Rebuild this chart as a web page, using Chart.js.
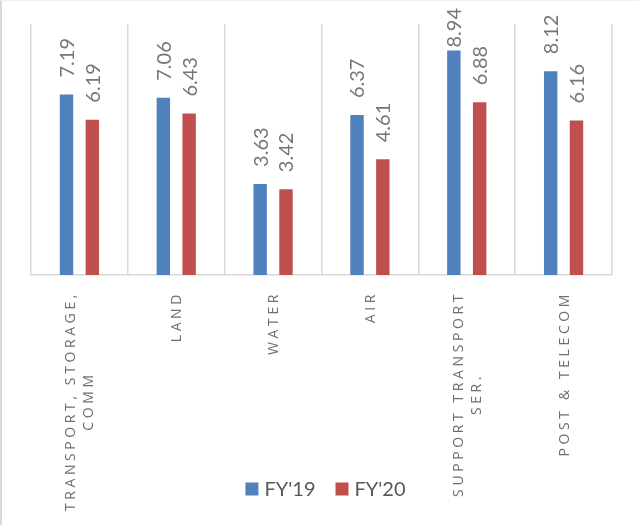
<!DOCTYPE html>
<html>
<head>
<meta charset="utf-8">
<script src="https://cdn.jsdelivr.net/npm/chart.js@4.4.1/dist/chart.umd.min.js"></script>
<style>
  html, body { margin: 0; padding: 0; background: #fff; }
  #wrap { width: 639px; height: 525px; position: relative; }
</style>
</head>
<body>
<div id="wrap"><canvas id="chart"></canvas></div>
<script>
// Transport sector growth by sub-sector, FY'19 vs FY'20
const categories = [
  ['TRANSPORT, STORAGE,', 'COMM'],
  ['LAND'],
  ['WATER'],
  ['AIR'],
  ['SUPPORT TRANSPORT', 'SER.'],
  ['POST & TELECOM']
];
const seriesNames = ["FY'19", "FY'20"];
const fy19 = [7.19, 7.06, 3.63, 6.37, 8.94, 8.12];
const fy20 = [6.19, 6.43, 3.42, 4.61, 6.88, 6.16];

const BLUE = '#4F81BD';
const RED = '#C0504D';

// White background plus the thin frame on the left and top edges
const frame = {
  id: 'frame',
  beforeDraw(chart) {
    const ctx = chart.ctx;
    ctx.save();
    ctx.fillStyle = '#ffffff';
    ctx.fillRect(0, 0, chart.width, chart.height);
    ctx.fillStyle = '#d9d9d9';
    ctx.fillRect(0, 0, 2, chart.height);
    ctx.fillStyle = '#efefef';
    ctx.fillRect(0, 0, chart.width, 1);
    ctx.restore();
  }
};

// Rotated value labels above each bar
const valueLabels = {
  id: 'valueLabels',
  afterDatasetsDraw(chart) {
    const ctx = chart.ctx;
    ctx.save();
    ctx.font = '20px Lato';
    ctx.fillStyle = '#767676';
    ctx.textAlign = 'left';
    ctx.textBaseline = 'middle';
    chart.data.datasets.forEach((ds, di) => {
      chart.getDatasetMeta(di).data.forEach((bar, i) => {
        const txt = ds.data[i].toFixed(2);
        const w = ctx.measureText(txt).width;
        let y = bar.y - 17;
        if (y - w < 8) y = Math.min(bar.y - 3, 8 + w);
        ctx.save();
        ctx.translate(bar.x + 1, y);
        ctx.rotate(-Math.PI / 2);
        ctx.fillText(txt, 0, 0);
        ctx.restore();
      });
    });
    ctx.restore();
  }
};

// Rotated, letter-spaced category labels under the axis
const categoryLabels = {
  id: 'categoryLabels',
  afterDraw(chart) {
    const ctx = chart.ctx;
    const xs = chart.scales.x;
    const top = chart.chartArea.bottom + 16;
    ctx.save();
    ctx.font = '14px "Open Sans"';
    ctx.fillStyle = '#6f6f6f';
    ctx.letterSpacing = '3.6px';
    ctx.textAlign = 'center';
    ctx.textBaseline = 'middle';
    chart.data.labels.forEach((lines, i) => {
      const cx = xs.getPixelForValue(i) + 1;
      const widths = lines.map(l => ctx.measureText(l).width);
      const maxW = Math.max(...widths);
      const lineH = 18;
      lines.forEach((line, li) => {
        const x = cx + (li - (lines.length - 1) / 2) * lineH;
        ctx.save();
        ctx.translate(x, top + maxW / 2);
        ctx.rotate(-Math.PI / 2);
        ctx.fillText(line, 0, 0);
        ctx.restore();
      });
    });
    ctx.restore();
  }
};

// Legend drawn beneath the plot, centred on the plot area
const bottomLegend = {
  id: 'bottomLegend',
  afterDraw(chart) {
    const ctx = chart.ctx;
    const box = 13, gapBoxText = 6, gapItems = 20;
    ctx.save();
    ctx.font = '20px Lato';
    ctx.textBaseline = 'middle';
    ctx.textAlign = 'left';
    const items = chart.data.datasets.map(ds => ({
      label: ds.label, color: ds.backgroundColor,
      w: box + gapBoxText + ctx.measureText(ds.label).width
    }));
    const total = items.reduce((s, it) => s + it.w, 0) + gapItems * (items.length - 1);
    const ca = chart.chartArea;
    let x = (ca.left + ca.right) / 2 + 4 - total / 2;
    const cy = 489;
    items.forEach(it => {
      ctx.fillStyle = it.color;
      ctx.fillRect(x, cy - box / 2, box, box);
      ctx.fillStyle = '#595959';
      ctx.fillText(it.label, x + box + gapBoxText, cy + 1);
      x += it.w + gapItems;
    });
    ctx.restore();
  }
};

new Chart(document.getElementById('chart'), {
  type: 'bar',
  data: {
    labels: categories,
    datasets: [
      { label: seriesNames[0], data: fy19, backgroundColor: BLUE },
      { label: seriesNames[1], data: fy20, backgroundColor: RED }
    ]
  },
  options: {
    responsive: true,
    maintainAspectRatio: false,
    animation: false,
    devicePixelRatio: 1,
    layout: { padding: { left: 31, right: 27, top: 24, bottom: 250 } },
    datasets: {
      bar: { categoryPercentage: 0.533, barPercentage: 0.52 }
    },
    plugins: {
      legend: { display: false },
      tooltip: { enabled: false }
    },
    scales: {
      x: {
        offset: true,
        grid: { display: true, offset: true, color: '#d9d9d9', lineWidth: 1.5, drawTicks: false },
        border: { display: true, color: '#d9d9d9', width: 1.5 },
        ticks: { display: false }
      },
      y: {
        display: false,
        min: 0,
        max: 10
      }
    }
  },
  plugins: [frame, valueLabels, categoryLabels, bottomLegend]
});
</script>
</body>
</html>
